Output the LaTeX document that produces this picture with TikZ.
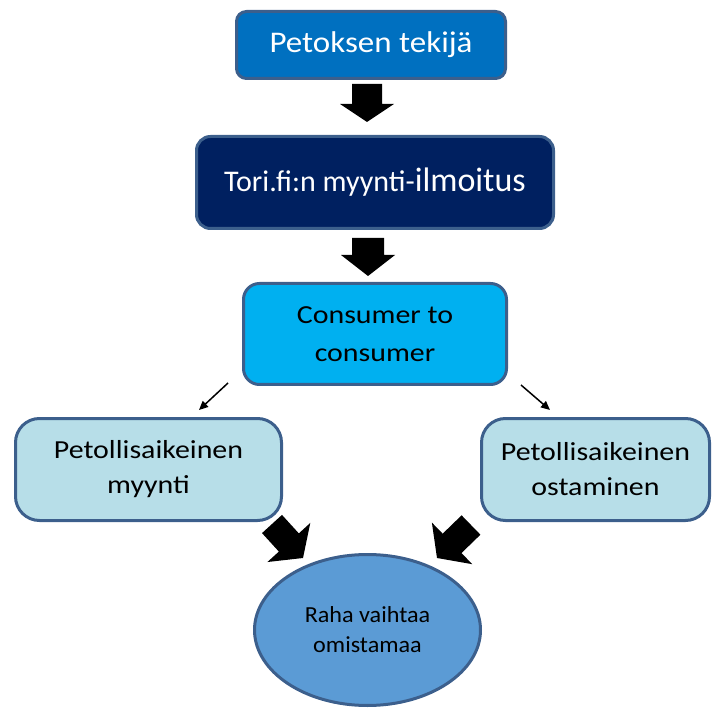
\documentclass[tikz,border=0pt]{standalone}
\usepackage{fontspec}
\setmainfont{Carlito}
\newfontfamily\wideA{Carlito}[FakeStretch=1.10]
\newfontfamily\wideB{Carlito}[FakeStretch=1.15]
\newfontfamily\wideC{Carlito}[FakeStretch=1.05]
\usetikzlibrary{calc,arrows.meta,shapes.geometric}
\definecolor{edgeblue}{RGB}{60,95,140}
\definecolor{boxone}{RGB}{0,112,192}
\definecolor{boxtwo}{RGB}{0,32,96}
\definecolor{boxthree}{RGB}{0,176,240}
\definecolor{boxlight}{RGB}{183,222,232}
\definecolor{ellfill}{RGB}{91,155,213}
\newcommand\blkarrow[5]{%
  \coordinate (#2-h) at ($(#2)!#5!(#1)$);
  \fill[black] ($(#1)!#3!90:(#2)$) -- ($(#2-h)!#3!90:(#2)$) -- ($(#2-h)!#4!90:(#2)$) -- (#2)
    -- ($(#2-h)!#4!-90:(#2)$) -- ($(#2-h)!#3!-90:(#2)$) -- ($(#1)!#3!-90:(#2)$) -- cycle;}
\begin{document}
\begin{tikzpicture}[x=1pt,y=-1pt,
  boxbase/.style={draw=edgeblue, line width=3pt, inner sep=0pt, align=center},
  thinarrow/.style={line width=1.5pt, -{Triangle[length=9pt,width=8pt]}}]
\useasboundingbox (0,0) rectangle (712,708);
\node[boxbase, fill=boxone, rounded corners=10pt, minimum width=269pt, minimum height=67pt,
  text=white, font=\wideA\fontsize{30}{36}\selectfont] (b1) at (371,45) {Petoksen tekijä};
\node[boxbase, fill=boxtwo, rounded corners=14pt, minimum width=357pt, minimum height=92pt,
  text=white, font=\fontsize{30}{36}\selectfont] (b2) at (375,182.5) {Tori.fi:n myynti-{\fontsize{34}{40}\selectfont ilmoitus}};
\node[boxbase, fill=boxthree, rounded corners=16pt, minimum width=263pt, minimum height=101pt,
  text=black, font=\wideB\fontsize{26}{38}\selectfont] (b3) at (375,334) {Consumer to\\consumer};
\node[boxbase, fill=boxlight, rounded corners=24pt, minimum width=266pt, minimum height=102pt,
  text=black, font=\wideB\fontsize{26}{35}\selectfont] (b4) at (148.5,469.5) {Petollisaikeinen\\myynti};
\node[boxbase, fill=boxlight, rounded corners=24pt, minimum width=228pt, minimum height=102pt,
  text=black, font=\wideB\fontsize{26}{35}\selectfont] (b5) at (595.5,469.5) {Petollisaikeinen\\ostaminen};
\node[boxbase, ellipse, fill=ellfill, minimum width=226pt, minimum height=151pt,
  text=black, font=\wideC\fontsize{23}{30}\selectfont] (e1) at (367.5,630) {Raha vaihtaa\\omistamaa};
% block arrows
\coordinate (a1s) at (367,84);  \coordinate (a1e) at (367,122);
\coordinate (a2s) at (368,238); \coordinate (a2e) at (368,276);
\coordinate (a3s) at (272,524); \coordinate (a3e) at (303,558);
\coordinate (a4s) at (471,525); \coordinate (a4e) at (437,558);
\blkarrow{a1s}{a1e}{15pt}{27pt}{18pt}
\blkarrow{a2s}{a2e}{16pt}{27pt}{21pt}
\blkarrow{a3s}{a3e}{13.5pt}{29pt}{21pt}
\blkarrow{a4s}{a4e}{13.5pt}{29pt}{21pt}
% thin arrows
\coordinate (t1s) at (228,383); \coordinate (t1e) at (199,410);
\coordinate (t2s) at (521,385); \coordinate (t2e) at (550,410);
\draw[thinarrow] (t1s) -- (t1e);
\draw[thinarrow] (t2s) -- (t2e);
\end{tikzpicture}
\end{document}
